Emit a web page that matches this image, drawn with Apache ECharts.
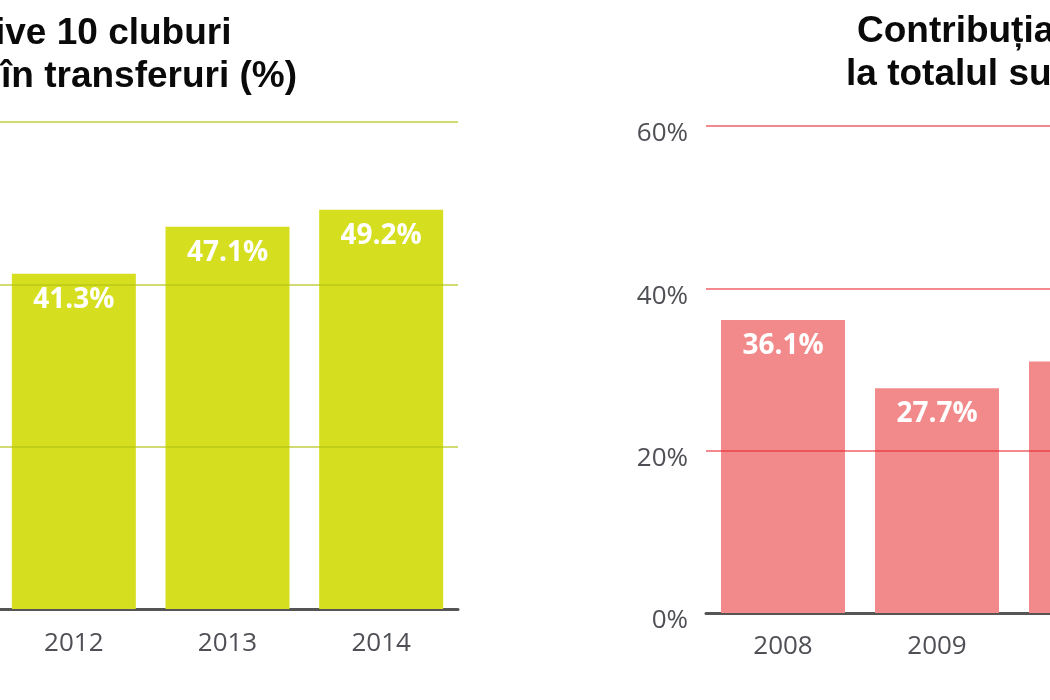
<!DOCTYPE html>
<html>
<head>
<meta charset="utf-8">
<script src="https://cdn.jsdelivr.net/npm/echarts@6/dist/echarts.min.js"></script>
<style>
html,body{margin:0;padding:0;background:#fff;overflow:hidden;}
#chart{width:1050px;height:700px;}
</style>
</head>
<body>
<div id="chart"></div>
<script>
// ---- data ----
const leftCategories = ['2012', '2013', '2014'];
const leftValues = [41.3, 47.1, 49.2];
const rightCategories = ['2008', '2009', '2010'];
const rightValues = [36.1, 27.7, 31.0];
const gridValues = [20, 40, 60];
const leftTitleLines = ['ive 10 cluburi', 'în transferuri (%)'];
const rightTitleLines = ['Contribuția', 'la totalul su'];

const chart = echarts.init(document.getElementById('chart'), null, {renderer: 'canvas'});

const titleFont = '"Liberation Sans", Arial, sans-serif';
const axisFont = '"Open Sans", "Noto Sans", sans-serif';

function titleText(text, x, y) {
  return {
    type: 'text', x: x, y: y, silent: true,
    style: {text: text, fill: '#0a0a0a', font: 'bold 37px ' + titleFont,
            textAlign: 'left', textVerticalAlign: 'middle'}
  };
}

function gridMarkLine(color) {
  return {
    silent: true, symbol: ['none', 'none'], z: 5,
    label: {show: false},
    lineStyle: {color: color, width: 2, type: 'solid'},
    emphasis: {disabled: true},
    data: gridValues.map(v => ({yAxis: v}))
  };
}

function barLabel() {
  return {
    show: true, position: 'insideTop', distance: 12,
    color: '#fff', fontFamily: axisFont, fontWeight: 'bold', fontSize: 28,
    formatter: p => p.value.toFixed(1) + '%'
  };
}

function xAxisFor(gridIndex, data, margin) {
  return {
    type: 'category', gridIndex: gridIndex, data: data,
    axisTick: {show: false},
    axisLine: {show: true, lineStyle: {color: '#555', width: 3}},
    axisLabel: {color: '#4f5055', fontFamily: axisFont, fontSize: 26, margin: margin}
  };
}
function yAxisFor(gridIndex) {
  return {
    type: 'value', gridIndex: gridIndex, min: 0, max: 60, interval: 20,
    axisLine: {show: false}, axisTick: {show: false},
    splitLine: {show: false},
    axisLabel: {color: '#4f5055', fontFamily: axisFont, fontSize: 26, margin: 18,
                verticalAlign: 'top', lineHeight: 16, formatter: '{value}%'}
  };
}

const option = {
  animation: false,
  backgroundColor: '#fff',
  graphic: [
    titleText(leftTitleLines[0], -5, 34),
    titleText(leftTitleLines[1], 1, 77),
    titleText(rightTitleLines[0], 857, 32),
    titleText(rightTitleLines[1], 846, 75)
  ],
  grid: [
    {left: -3, right: 592, top: 122, bottom: 91, containLabel: false, outerBoundsMode: 'none'},
    {left: 706, right: -118, top: 126, bottom: 87, containLabel: false, outerBoundsMode: 'none'}
  ],
  xAxis: [
    xAxisFor(0, leftCategories, 22),
    xAxisFor(1, rightCategories, 21)
  ],
  yAxis: [
    yAxisFor(0),
    yAxisFor(1)
  ],
  series: [
    {
      type: 'bar', xAxisIndex: 0, yAxisIndex: 0, data: leftValues,
      barWidth: 124, itemStyle: {color: '#d5df1f'},
      label: barLabel(),
      markLine: gridMarkLine('rgba(180,195,20,0.6)')
    },
    {
      type: 'bar', xAxisIndex: 1, yAxisIndex: 1, data: rightValues,
      barWidth: 124, itemStyle: {color: '#f28a8c'},
      label: barLabel(),
      markLine: gridMarkLine('rgba(230,40,50,0.55)')
    }
  ]
};
chart.setOption(option);
</script>
</body>
</html>
